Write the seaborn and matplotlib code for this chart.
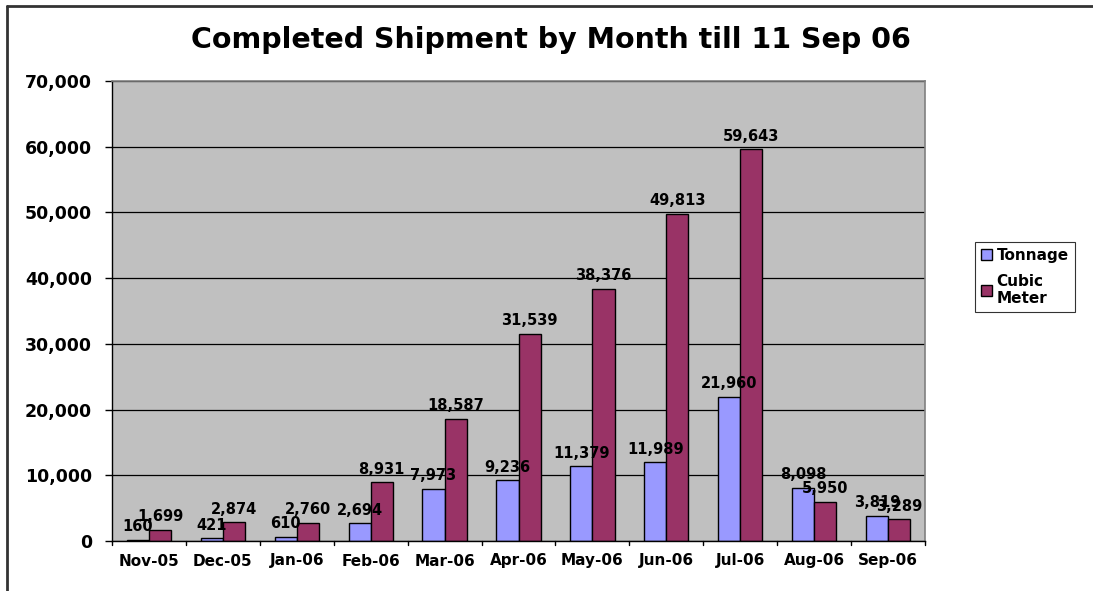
import matplotlib
matplotlib.use("Agg")
import matplotlib.pyplot as plt
import seaborn as sns
import pandas as pd
from matplotlib.lines import Line2D
from matplotlib.ticker import FuncFormatter, MultipleLocator

months = ["Nov-05", "Dec-05", "Jan-06", "Feb-06", "Mar-06", "Apr-06",
          "May-06", "Jun-06", "Jul-06", "Aug-06", "Sep-06"]
tonnage = [160, 421, 610, 2694, 7973, 9236, 11379, 11989, 21960, 8098, 3819]
cubic_meter = [1699, 2874, 2760, 8931, 18587, 31539, 38376, 49813, 59643, 5950, 3289]
series_names = ["Tonnage", "Cubic\nMeter"]

df = pd.DataFrame({
    "Month": months * 2,
    "Value": tonnage + cubic_meter,
    "Series": [series_names[0]] * len(months) + [series_names[1]] * len(months),
})

sns.set_style("white")
plt.rcParams["font.family"] = ["DejaVu Sans"]
plt.rcParams["font.weight"] = "bold"
plt.rcParams["text.color"] = "black"
plt.rcParams["xtick.color"] = "black"
plt.rcParams["ytick.color"] = "black"

fig = plt.figure(figsize=(10.93, 5.91), dpi=100)
ax = fig.add_axes([112 / 1093, 1 - 541 / 591, (925 - 112) / 1093, (541 - 81) / 591])
ax.set_facecolor("#C0C0C0")

palette = {series_names[0]: "#9999FF", series_names[1]: "#993366"}
sns.barplot(data=df, x="Month", y="Value", hue="Series", palette=palette,
            order=months, hue_order=series_names, width=0.6, gap=0,
            edgecolor="black", linewidth=1.0, saturation=1, ax=ax, legend=True)

ax.set_ylim(0, 70000)
ax.set_xlim(-0.5, len(months) - 0.5)
ax.yaxis.set_major_locator(MultipleLocator(10000))
ax.yaxis.set_major_formatter(FuncFormatter(lambda v, p: f"{int(v):,}"))
ax.yaxis.grid(True, color="black", linewidth=0.9)
ax.set_axisbelow(True)
ax.set_xlabel("")
ax.set_ylabel("")

for s in ["top", "right"]:
    ax.spines[s].set_color("#808080")
    ax.spines[s].set_linewidth(1.2)
for s in ["left", "bottom"]:
    ax.spines[s].set_color("black")
    ax.spines[s].set_linewidth(1.0)

ax.tick_params(axis="y", length=5, width=1, direction="out", left=True, labelsize=12.5,
               pad=9.5, labelcolor="black")
ax.tick_params(axis="x", length=0, labelsize=11, pad=9, labelcolor="black")
for lab in ax.get_yticklabels() + ax.get_xticklabels():
    lab.set_fontweight("bold")
# x-axis category separators
for i in range(len(months) + 1):
    ax.plot([i - 0.5, i - 0.5], [0, -0.009], transform=ax.get_xaxis_transform(),
            color="black", linewidth=1, clip_on=False)

for cont in ax.containers:
    for bar in cont:
        h = bar.get_height()
        ax.annotate(f"{int(round(h)):,}", (bar.get_x() + bar.get_width() / 2, h),
                    xytext=(0, 4), textcoords="offset points",
                    ha="center", va="bottom", fontsize=10.5, fontweight="bold",
                    color="black")

leg = ax.legend(loc="upper left", bbox_to_anchor=(975 / 1093, 1 - 242 / 591),
                bbox_transform=fig.transFigure, frameon=True, fancybox=False,
                fontsize=11, handlelength=0.7, handleheight=0.7,
                handletextpad=0.3, labelspacing=0.7, borderpad=0.4,
                borderaxespad=0)
leg.get_frame().set_edgecolor("black")
leg.get_frame().set_linewidth(0.8)
for t in leg.get_texts():
    t.set_fontweight("bold")
    t.set_color("black")

fig.text(551 / 1093, 1 - 40 / 591, "Completed Shipment by Month till 11 Sep 06",
         ha="center", va="center", fontsize=20.5, fontweight="bold", color="black")

# outer chart border (top and left visible)
fig.add_artist(Line2D([7 / 1093, 7 / 1093], [0, 1 - 6 / 591], transform=fig.transFigure,
                      color="#333333", linewidth=2))
fig.add_artist(Line2D([7 / 1093, 1], [1 - 6 / 591, 1 - 6 / 591], transform=fig.transFigure,
                      color="#333333", linewidth=2))

fig.savefig("out.png", dpi=100)
